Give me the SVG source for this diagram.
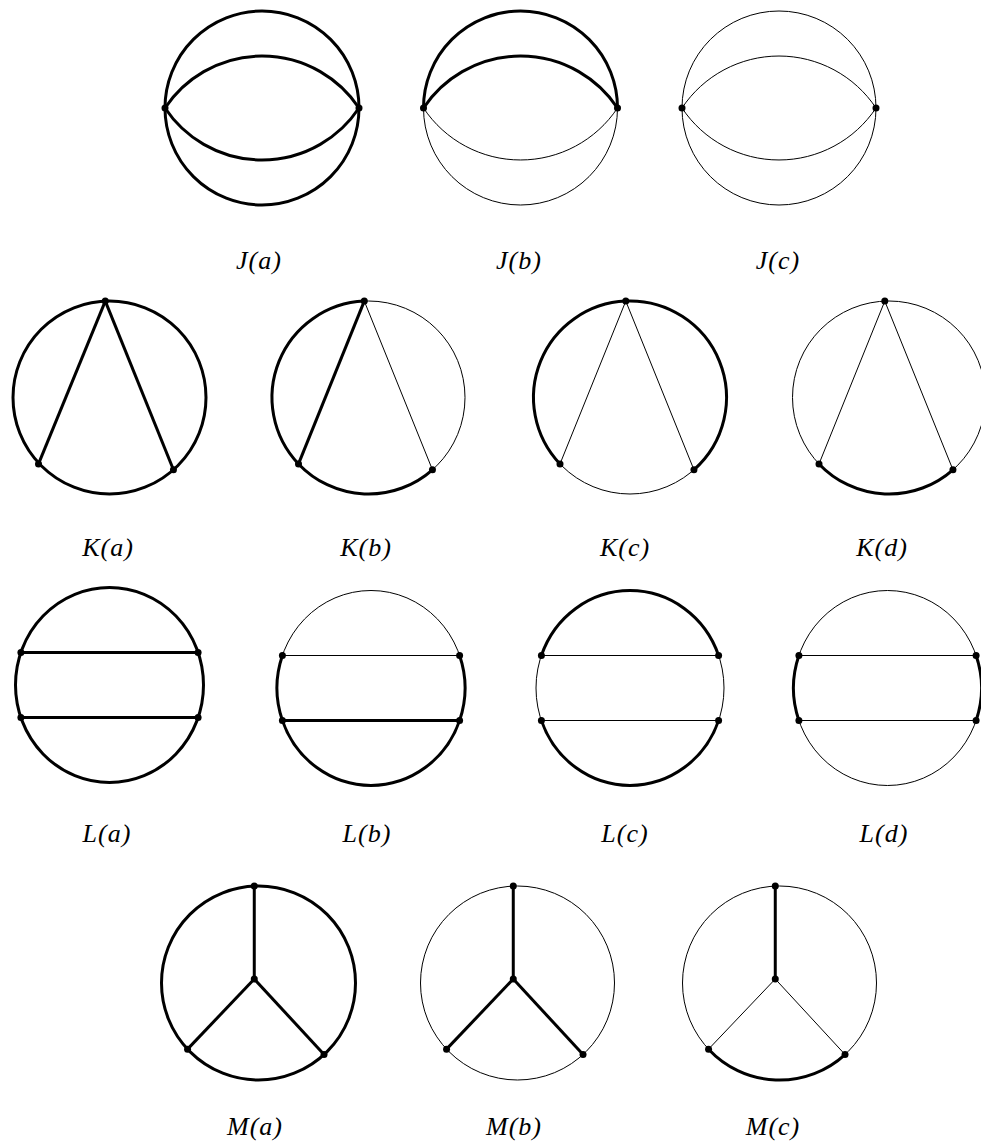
<svg xmlns="http://www.w3.org/2000/svg" width="981" height="1147" viewBox="0 0 981 1147">
<style>
.tk{fill:none;stroke:#000;stroke-width:3}
.tn{fill:none;stroke:#000;stroke-width:1}
.v{fill:#000}
.lb{font-family:"Liberation Serif","Times New Roman",serif;font-style:italic;font-size:26px;text-anchor:middle;fill:#000;letter-spacing:1px}
</style>
<rect width="981" height="1147" fill="#fff"/>

<!-- J row -->
<g id="J-a">
<g class="edges">
<circle class="tk" cx="262" cy="108" r="97"/>
<path class="tk" d="M165,108 A116.5,116.5 0 0 1 359,108"/>
<path class="tk" d="M165,108 A116.5,116.5 0 0 0 359,108"/>
</g>
<circle class="v" cx="165" cy="108" r="3.5"/><circle class="v" cx="359" cy="108" r="3.5"/>
<text class="lb" x="259" y="269">J(a)</text>
</g>
<g id="J-b">
<g class="edges">
<circle class="tn" cx="520.5" cy="108" r="97"/>
<path class="tk" d="M423.5,108 A97,97 0 0 1 617.5,108"/>
<path class="tk" d="M423.5,108 A116.5,116.5 0 0 1 617.5,108"/>
<path class="tn" d="M423.5,108 A116.5,116.5 0 0 0 617.5,108"/>
</g>
<circle class="v" cx="423.5" cy="108" r="3.5"/><circle class="v" cx="617.5" cy="108" r="3.5"/>
<text class="lb" x="519" y="269">J(b)</text>
</g>
<g id="J-c">
<g class="edges">
<circle class="tn" cx="779" cy="108" r="97"/>
<path class="tn" d="M682,108 A116.5,116.5 0 0 1 876,108"/>
<path class="tn" d="M682,108 A116.5,116.5 0 0 0 876,108"/>
</g>
<circle class="v" cx="682" cy="108" r="3.5"/><circle class="v" cx="876" cy="108" r="3.5"/>
<text class="lb" x="778" y="269">J(c)</text>
</g>

<!-- K row -->
<g id="K-a">
<g class="edges">
<circle class="tk" cx="109.5" cy="397.5" r="96.5"/>
<line class="tk" x1="105.29" y1="301.09" x2="38.5" y2="463.93"/>
<line class="tk" x1="105.29" y1="301.09" x2="173.44" y2="469.77"/>
</g>
<circle class="v" cx="105.29" cy="301.09" r="3.5"/><circle class="v" cx="38.5" cy="463.93" r="3.5"/><circle class="v" cx="173.44" cy="469.77" r="3.5"/>
<text class="lb" x="108" y="556">K(a)</text>
</g>
<g id="K-b">
<g class="edges">
<circle class="tn" cx="368.5" cy="397.5" r="96.5"/>
<path class="tk" d="M364.29,301.09 A96.5,96.5 0 0 0 298.5,463.93 A96.5,96.5 0 0 0 432.44,469.77"/>
<line class="tk" x1="364.29" y1="301.09" x2="298.5" y2="463.93"/>
<line class="tn" x1="364.29" y1="301.09" x2="432.44" y2="469.77"/>
</g>
<circle class="v" cx="364.29" cy="301.09" r="3.5"/><circle class="v" cx="298.5" cy="463.93" r="3.5"/><circle class="v" cx="432.44" cy="469.77" r="3.5"/>
<text class="lb" x="366" y="556">K(b)</text>
</g>
<g id="K-c">
<g class="edges">
<circle class="tn" cx="630" cy="397.5" r="96.5"/>
<path class="tk" d="M625.79,301.09 A96.5,96.5 0 0 0 560,463.93"/>
<path class="tk" d="M693.94,469.77 A96.5,96.5 0 0 0 625.79,301.09"/>
<line class="tn" x1="625.79" y1="301.09" x2="560" y2="463.93"/>
<line class="tn" x1="625.79" y1="301.09" x2="693.94" y2="469.77"/>
</g>
<circle class="v" cx="625.79" cy="301.09" r="3.5"/><circle class="v" cx="560" cy="463.93" r="3.5"/><circle class="v" cx="693.94" cy="469.77" r="3.5"/>
<text class="lb" x="625" y="556">K(c)</text>
</g>
<g id="K-d">
<g class="edges">
<circle class="tn" cx="889" cy="397.5" r="96.5"/>
<path class="tk" d="M819,463.93 A96.5,96.5 0 0 0 952.94,469.77"/>
<line class="tn" x1="884.79" y1="301.09" x2="819" y2="463.93"/>
<line class="tn" x1="884.79" y1="301.09" x2="952.94" y2="469.77"/>
</g>
<circle class="v" cx="884.79" cy="301.09" r="3.5"/><circle class="v" cx="819" cy="463.93" r="3.5"/><circle class="v" cx="952.94" cy="469.77" r="3.5"/>
<text class="lb" x="882" y="556">K(d)</text>
</g>

<!-- L row -->
<g id="L-a">
<g class="edges">
<ellipse class="tk" cx="109.5" cy="685" rx="94" ry="97.5"/>
<line class="tk" x1="20.9" y1="652.5" x2="198.1" y2="652.5"/>
<line class="tk" x1="20.9" y1="717.5" x2="198.1" y2="717.5"/>
</g>
<circle class="v" cx="20.9" cy="652.5" r="3.5"/><circle class="v" cx="198.1" cy="652.5" r="3.5"/><circle class="v" cx="20.9" cy="717.5" r="3.5"/><circle class="v" cx="198.1" cy="717.5" r="3.5"/>
<text class="lb" x="107" y="842">L(a)</text>
</g>
<g id="L-b">
<g class="edges">
<ellipse class="tn" cx="371" cy="688" rx="94" ry="97.5"/>
<path class="tk" d="M459.6,655.5 A94,97.5 0 0 1 459.6,720.5 A94,97.5 0 0 1 282.4,720.5 A94,97.5 0 0 1 282.4,655.5"/>
<line class="tn" x1="282.4" y1="655.5" x2="459.6" y2="655.5"/>
<line class="tk" x1="282.4" y1="720.5" x2="459.6" y2="720.5"/>
</g>
<circle class="v" cx="282.4" cy="655.5" r="3.5"/><circle class="v" cx="459.6" cy="655.5" r="3.5"/><circle class="v" cx="282.4" cy="720.5" r="3.5"/><circle class="v" cx="459.6" cy="720.5" r="3.5"/>
<text class="lb" x="367" y="842">L(b)</text>
</g>
<g id="L-c">
<g class="edges">
<ellipse class="tn" cx="630" cy="688" rx="94" ry="97.5"/>
<path class="tk" d="M541.4,655.5 A94,97.5 0 0 1 718.6,655.5"/>
<path class="tk" d="M718.6,720.5 A94,97.5 0 0 1 541.4,720.5"/>
<line class="tn" x1="541.4" y1="655.5" x2="718.6" y2="655.5"/>
<line class="tn" x1="541.4" y1="720.5" x2="718.6" y2="720.5"/>
</g>
<circle class="v" cx="541.4" cy="655.5" r="3.5"/><circle class="v" cx="718.6" cy="655.5" r="3.5"/><circle class="v" cx="541.4" cy="720.5" r="3.5"/><circle class="v" cx="718.6" cy="720.5" r="3.5"/>
<text class="lb" x="625" y="842">L(c)</text>
</g>
<g id="L-d">
<g class="edges">
<ellipse class="tn" cx="887.5" cy="688" rx="94" ry="97.5"/>
<path class="tk" d="M976.1,655.5 A94,97.5 0 0 1 976.1,720.5"/>
<path class="tk" d="M798.9,720.5 A94,97.5 0 0 1 798.9,655.5"/>
<line class="tn" x1="798.9" y1="655.5" x2="976.1" y2="655.5"/>
<line class="tn" x1="798.9" y1="720.5" x2="976.1" y2="720.5"/>
</g>
<circle class="v" cx="798.9" cy="655.5" r="3.5"/><circle class="v" cx="976.1" cy="655.5" r="3.5"/><circle class="v" cx="798.9" cy="720.5" r="3.5"/><circle class="v" cx="976.1" cy="720.5" r="3.5"/>
<text class="lb" x="884" y="842">L(d)</text>
</g>

<!-- M row -->
<g id="M-a">
<g class="edges">
<circle class="tk" cx="258.5" cy="983" r="97"/>
<line class="tk" x1="254.27" y1="979" x2="254.27" y2="886.09"/>
<line class="tk" x1="254.27" y1="979" x2="187.56" y2="1049.15"/>
<line class="tk" x1="254.27" y1="979" x2="324.03" y2="1054.52"/>
</g>
<circle class="v" cx="254.27" cy="886.09" r="3.5"/><circle class="v" cx="254.27" cy="979" r="3.5"/><circle class="v" cx="187.56" cy="1049.15" r="3.5"/><circle class="v" cx="324.03" cy="1054.52" r="3.5"/>
<text class="lb" x="255" y="1135">M(a)</text>
</g>
<g id="M-b">
<g class="edges">
<circle class="tn" cx="517.5" cy="983" r="97"/>
<line class="tk" x1="513.27" y1="979" x2="513.27" y2="886.09"/>
<line class="tk" x1="513.27" y1="979" x2="446.56" y2="1049.15"/>
<line class="tk" x1="513.27" y1="979" x2="583.03" y2="1054.52"/>
</g>
<circle class="v" cx="513.27" cy="886.09" r="3.5"/><circle class="v" cx="513.27" cy="979" r="3.5"/><circle class="v" cx="446.56" cy="1049.15" r="3.5"/><circle class="v" cx="583.03" cy="1054.52" r="3.5"/>
<text class="lb" x="514" y="1135">M(b)</text>
</g>
<g id="M-c">
<g class="edges">
<circle class="tn" cx="779.5" cy="983" r="97"/>
<path class="tk" d="M708.56,1049.15 A97,97 0 0 0 845.03,1054.52"/>
<line class="tk" x1="775.27" y1="979" x2="775.27" y2="886.09"/>
<line class="tn" x1="775.27" y1="979" x2="708.56" y2="1049.15"/>
<line class="tn" x1="775.27" y1="979" x2="845.03" y2="1054.52"/>
</g>
<circle class="v" cx="775.27" cy="886.09" r="3.5"/><circle class="v" cx="775.27" cy="979" r="3.5"/><circle class="v" cx="708.56" cy="1049.15" r="3.5"/><circle class="v" cx="845.03" cy="1054.52" r="3.5"/>
<text class="lb" x="773" y="1135">M(c)</text>
</g>
</svg>
